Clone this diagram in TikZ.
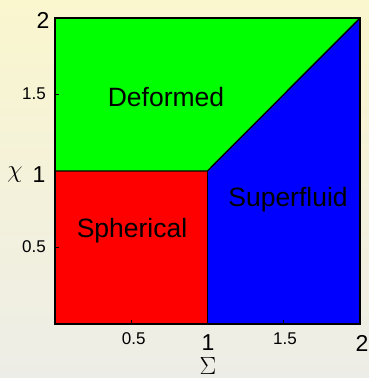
\documentclass[tikz,border=0pt]{standalone}
\usepackage{fontspec}
\setmainfont{Liberation Sans}
\usepackage{tikz}
\usetikzlibrary{positioning}
\definecolor{bgtop}{HTML}{FAF6CE}
\definecolor{bgbot}{HTML}{EDEDE7}
\definecolor{defgreen}{HTML}{00FF00}
\definecolor{sphred}{HTML}{FF0000}
\definecolor{sfblue}{HTML}{0000FF}

\begin{document}
\begin{tikzpicture}[x=152.5pt,y=153pt]
    \tikzstyle{region}=[inner sep=0pt,font=\fontsize{26.5}{31}\selectfont]
    \tikzstyle{bigtick}=[inner sep=0pt,font=\fontsize{23}{27}\selectfont]
    \tikzstyle{smalltick}=[inner sep=0pt,font=\fontsize{17}{20}\selectfont]
    \tikzstyle{axlabel}=[inner sep=0pt,font=\fontsize{23}{27}\selectfont]
    \shade[top color=bgtop,bottom color=bgbot] (-55pt,-54pt) rectangle (314pt,324pt);
    \useasboundingbox (-55pt,-54pt) rectangle (314pt,324pt);
    % phase regions
    \fill[sphred] (0,0) rectangle (1,1);
    \fill[sfblue] (1,0) -- (2,0) -- (2,2) -- (1,1) -- cycle;
    \fill[defgreen] (0,1) -- (1,1) -- (2,2) -- (0,2) -- cycle;
    \draw[line width=1.4pt] (0,1) -- (1,1) -- (2,2);
    \draw[line width=1.4pt] (1,0) -- (1,1);
    \foreach \t in {0.5,1.5} {
      \draw[line width=0.9pt] (\t,0) -- ++(0,4pt);
      \draw[line width=0.9pt] (0,\t) -- ++(4pt,0);
    }
    \draw[line width=2pt] (0,0) rectangle (2,2);
    \node[region] (def) at (0.728,1.484) {Deformed};
    \node[region] (sph) at (0.505,0.608) {Spherical};
    \node[region] (sup) at (1.528,0.81)  {Superfluid};
    % x axis
    \node[smalltick] (x05) at (0.516,-0.098) {0.5};
    \node[bigtick]   (x1)  at (1.003,-0.124) {1};
    \node[smalltick] (x15) at (1.508,-0.098) {1.5};
    \node[bigtick]   (x2)  at (2.013,-0.124) {2};
    \node[axlabel]   (sig) at (1.003,-0.272) {$\Sigma$};
    % y axis
    \node[smalltick] (y05) at (-0.138,0.503) {0.5};
    \node[bigtick]   (y1)  at (-0.105,0.974) {1};
    \node[smalltick] (y15) at (-0.138,1.503) {1.5};
    \node[bigtick]   (y2)  at (-0.079,1.984) {2};
    \node[axlabel]   (chi) at (-0.262,0.974) {$\chi$};
\end{tikzpicture}
\end{document}
